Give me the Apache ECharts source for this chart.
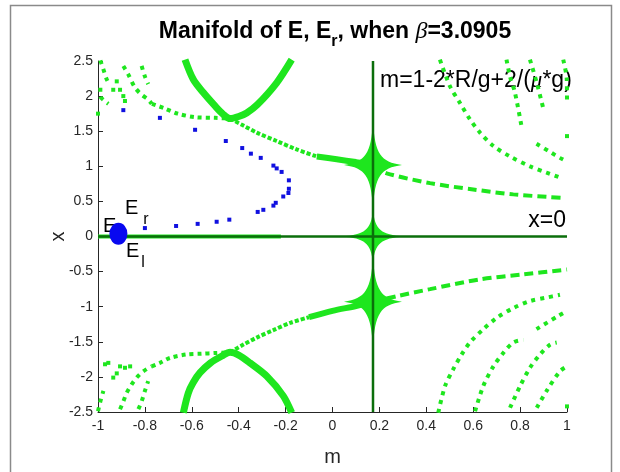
<!DOCTYPE html>
<html>
<head>
<meta charset="utf-8">
<script src="https://cdn.jsdelivr.net/npm/echarts@6/dist/echarts.min.js"></script>
<style>
  html, body { margin: 0; padding: 0; background: #fff; }
  #main { width: 620px; height: 472px; }
</style>
</head>
<body>
<div id="main"></div>
<script>
// lignes x=0 et m = 1-2R/g+2/(mu g)
var hLine = [[-1, 0], [1, 0]];
var hLineLeft = [[-1, 0], [-0.22, 0]];
var vLine = [[0.1727, -2.5], [0.1727, 2.5]];
var spindles = [[0.1727, 1.02], [0.1727, 0], [0.1727, -0.93]];

// branche superieure
var upLeft = [[-0.77, 1.89], [-0.72, 1.83], [-0.66, 1.75], [-0.586, 1.70], [-0.5, 1.69], [-0.437, 1.68]];
var upMid = [[-0.437, 1.68], [-0.38, 1.58], [-0.323, 1.48], [-0.238, 1.36], [-0.153, 1.24], [-0.067, 1.14]];
var upNear = [[-0.067, 1.14], [0.018, 1.10], [0.1, 1.06], [0.1727, 1.02]];
var upRight = [[0.1727, 1.0], [0.231, 0.9], [0.416, 0.76], [0.60, 0.67], [0.771, 0.60], [0.984, 0.55]];
// branche inferieure
var lowLeft = [[-0.771, -1.85], [-0.736, -1.80], [-0.693, -1.73], [-0.622, -1.68], [-0.558, -1.67], [-0.5, -1.66], [-0.437, -1.65]];
var lowMid = [[-0.437, -1.65], [-0.38, -1.54], [-0.323, -1.44], [-0.25, -1.33], [-0.18, -1.23], [-0.1, -1.15]];
var lowNear = [[-0.1, -1.15], [0.0, -1.06], [0.1, -0.99], [0.1727, -0.93]];
var lowRight = [[0.1727, -0.93], [0.274, -0.85], [0.416, -0.75], [0.629, -0.61], [0.814, -0.54], [1.0, -0.47]];

// paraboles
var parUp = [[-0.629, 2.52], [-0.594, 2.24], [-0.551, 2.05], [-0.501, 1.86], [-0.466, 1.74], [-0.437, 1.68], [-0.40, 1.71], [-0.366, 1.76], [-0.32, 1.88], [-0.238, 2.19], [-0.174, 2.52]];
var parDown = [[-0.636, -2.51], [-0.615, -2.23], [-0.594, -2.08], [-0.565, -1.94], [-0.52, -1.80], [-0.47, -1.70], [-0.437, -1.65], [-0.40, -1.69], [-0.352, -1.80], [-0.28, -1.99], [-0.21, -2.27], [-0.174, -2.51]];

// arcs en pointilles
var arcs = [
  [[-0.99, 2.51], [-0.977, 2.38], [-0.963, 2.24], [-0.95, 2.16]],
  [[-0.99, 2.12], [-0.99, 2.0], [-0.975, 1.94], [-0.956, 1.89]],
  [[-0.892, 2.43], [-0.871, 2.31], [-0.842, 2.12], [-0.814, 2.02], [-0.786, 1.95], [-0.771, 1.89]],
  [[-0.814, 2.43], [-0.80, 2.28], [-0.786, 2.17]],
  [[-1, -2.49], [-0.99, -2.35], [-0.977, -2.2]],
  [[-0.906, -2.46], [-0.892, -2.35], [-0.878, -2.23], [-0.857, -2.11], [-0.835, -2.01], [-0.814, -1.94], [-0.793, -1.89], [-0.771, -1.85]],
  [[-0.828, -2.46], [-0.814, -2.35], [-0.80, -2.2], [-0.786, -2.06]],
  [[0.458, 2.52], [0.501, 2.14], [0.544, 1.90], [0.586, 1.67], [0.629, 1.48], [0.686, 1.29], [0.757, 1.14], [0.842, 1.0], [0.913, 0.91], [0.97, 0.84]],
  [[0.742, 2.52], [0.757, 2.28], [0.778, 2.05], [0.806, 1.57]],
  [[0.87, 1.32], [0.93, 1.2], [0.97, 1.12], [1.0, 1.07]],
  [[0.842, 2.52], [0.871, 2.19], [0.9, 1.81]],
  [[0.984, 2.52], [0.999, 2.24], [1.0, 1.95]],
  [[0.451, -2.51], [0.48, -2.13], [0.515, -1.89], [0.551, -1.68], [0.586, -1.51], [0.643, -1.32], [0.70, -1.16], [0.771, -1.02], [0.842, -0.92], [0.913, -0.87], [0.97, -0.83]],
  [[0.608, -2.49], [0.643, -2.13], [0.686, -1.85], [0.728, -1.66], [0.771, -1.51], [0.814, -1.47]],
  [[0.87, -1.32], [0.963, -1.13], [1.0, -1.06]],
  [[0.757, -2.44], [0.80, -2.13], [0.842, -1.87], [0.885, -1.68], [0.928, -1.54], [0.956, -1.51]],
  [[0.871, -2.44], [0.913, -2.2], [0.97, -1.92], [1.0, -1.85]]
];
var greenDots = [[-0.92, 2.21], [-0.935, 2.09], [-0.906, 2.09], [-0.892, 2.0], [-0.885, 1.93], [-1, 1.75],
  [-0.97, -1.82], [-0.956, -1.80], [-0.935, -2.01], [-0.92, -1.95], [-0.906, -1.85], [-0.885, -1.87], [-0.863, -1.85],
  [1.0, 1.43], [1.0, -2.42]];

// orbite bleue
var bluePts = [[-0.892, 1.80], [-0.736, 1.69], [-0.586, 1.52], [-0.455, 1.36], [-0.385, 1.26], [-0.348, 1.18], [-0.306, 1.12],
  [-0.252, 1.01], [-0.238, 0.97], [-0.217, 0.92], [-0.186, 0.80], [-0.186, 0.68], [-0.188, 0.62], [-0.21, 0.57],
  [-0.242, 0.48], [-0.252, 0.44], [-0.295, 0.38], [-0.319, 0.35], [-0.44, 0.24], [-0.494, 0.21], [-0.575, 0.18],
  [-0.667, 0.15], [-0.80, 0.12]];
var pointE = [[-0.913, 0.04]];

var GREEN = '#1ee61e';
var DARK = '#0b6e0b';
var spindleSizes = [[58, 86], [62, 52], [58, 90]];
var starPath = 'path://M0,-10 C0.7,-2.6 2.6,-0.7 10,0 C2.6,0.7 0.7,2.6 0,10 C-0.7,2.6 -2.6,0.7 -10,0 C-2.6,-0.7 -0.7,-2.6 0,-10 Z';

function curve(data, width, dash, z) {
  return {
    type: 'line', data: data, smooth: 0.3, symbol: 'none', silent: true, z: z || 2,
    lineStyle: { color: GREEN, width: width, type: dash || 'solid', cap: 'butt', opacity: 1 }
  };
}

var series = [];
arcs.forEach(function (a) { series.push(curve(a, 4, [4, 5])); });
series.push({ type: 'scatter', data: greenDots, symbol: 'rect', symbolSize: 4, itemStyle: { color: GREEN, opacity: 1 }, silent: true });
series.push(curve(hLineLeft, 4));
series.push(curve(upLeft, 4, [4, 4]));
series.push(curve(upMid, 4, [4, 2]));
series.push(curve(upNear, 6));
series.push(curve(upRight, 4, [9, 5]));
series.push(curve(lowLeft, 4, [4, 4]));
series.push(curve(lowMid, 4, [4, 2]));
series.push(curve(lowNear, 6));
series.push(curve(lowRight, 4, [9, 5]));
series.push(curve(parUp, 7));
series.push(curve(parDown, 7));
series.push({
  type: 'scatter', silent: true, z: 3,
  data: spindles.map(function (p, i) { return { value: p, symbolSize: spindleSizes[i] }; }),
  symbol: starPath, itemStyle: { color: GREEN, opacity: 1 }
});
series.push({ type: 'line', data: hLine, symbol: 'none', silent: true, z: 4, lineStyle: { color: DARK, width: 2.5 } });
series.push({ type: 'line', data: vLine, symbol: 'none', silent: true, z: 4, lineStyle: { color: DARK, width: 2.5 } });
series.push({ type: 'scatter', data: bluePts, symbol: 'rect', symbolSize: 4, silent: true, z: 5, itemStyle: { color: '#1010e0', opacity: 1 } });
series.push({ type: 'scatter', data: pointE, symbol: 'circle', symbolSize: [18, 22], silent: true, z: 6, itemStyle: { color: '#0808f0', opacity: 1 } });

var chart = echarts.init(document.getElementById('main'), null, { renderer: 'canvas' });
var axisCol = '#262626';
var FONT = 'Liberation Sans';

chart.setOption({
  animation: false,
  backgroundColor: '#fff',
  title: {
    left: 330, top: 15, textAlign: 'center',
    text: '{a|Manifold of E, E}{s|r}{a|, when }{b|β}{a|=3.0905}',
    textStyle: {
      rich: {
        a: { fontSize: 23, fontWeight: 'bold', fontFamily: FONT, color: '#000', lineHeight: 26, verticalAlign: 'top' },
        s: { fontSize: 16, fontWeight: 'bold', fontFamily: FONT, color: '#000', lineHeight: 16, padding: [14, 0, 0, 0], verticalAlign: 'top' },
        b: { fontSize: 24, fontStyle: 'italic', fontWeight: 'normal', fontFamily: 'Liberation Serif', color: '#000', lineHeight: 26, verticalAlign: 'top' }
      }
    }
  },
  grid: { left: 98, right: 53, top: 61, bottom: 60 },
  xAxis: {
    type: 'value', min: -1, max: 1, interval: 0.2,
    name: 'm', nameLocation: 'middle', nameGap: 35, nameMoveOverlap: false,
    nameTextStyle: { fontSize: 20, fontFamily: FONT, color: axisCol },
    axisLine: { onZero: false, lineStyle: { color: axisCol, width: 1 } },
    axisTick: { inside: true, length: 5, lineStyle: { color: axisCol } },
    axisLabel: { fontSize: 14, fontFamily: FONT, color: axisCol, margin: 7 },
    splitLine: { show: false }
  },
  yAxis: {
    type: 'value', min: -2.5, max: 2.5, interval: 0.5,
    name: 'x', nameLocation: 'middle', nameGap: 30, nameRotate: 90, nameMoveOverlap: false,
    nameTextStyle: { fontSize: 20, fontFamily: FONT, color: axisCol },
    axisLine: { onZero: false, lineStyle: { color: axisCol, width: 1 } },
    axisTick: { inside: true, length: 5, lineStyle: { color: axisCol } },
    axisLabel: { fontSize: 14, fontFamily: FONT, color: axisCol, margin: 5 },
    splitLine: { show: false }
  },
  graphic: [
    { type: 'rect', z: 0, shape: { x: 10.5, y: 5.5, width: 601, height: 480 }, style: { fill: 'none', stroke: '#8a8a8a', lineWidth: 1.5 } },
    { type: 'text', z: 1, x: 380, y: 81, style: { text: '{n|m=1-2*R/g+2/(}{i|μ}{n|*g)}', textVerticalAlign: 'middle',
      rich: { n: { fontSize: 23, fontFamily: FONT, fill: '#000' }, i: { fontSize: 23, fontFamily: 'Liberation Serif', fontStyle: 'italic', fill: '#000' } } } },
    { type: 'text', z: 1, x: 566, y: 221, style: { text: 'x=0', textAlign: 'right', textVerticalAlign: 'middle', fontSize: 23, fontFamily: FONT, fill: '#000' } },
    { type: 'text', z: 1, x: 103, y: 226, style: { text: 'E', textVerticalAlign: 'middle', fontSize: 20, fontFamily: FONT, fill: '#000' } },
    { type: 'text', z: 1, x: 125, y: 198, style: { text: '{e|E}{s|r}',
      rich: { e: { fontSize: 20, fontFamily: FONT, fill: '#000', lineHeight: 21, verticalAlign: 'top' }, s: { fontSize: 16, fontFamily: FONT, fill: '#000', lineHeight: 16, padding: [14, 0, 0, 5], verticalAlign: 'top' } } } },
    { type: 'text', z: 1, x: 126, y: 241, style: { text: '{e|E}{s|l}',
      rich: { e: { fontSize: 20, fontFamily: FONT, fill: '#000', lineHeight: 21, verticalAlign: 'top' }, s: { fontSize: 16, fontFamily: FONT, fill: '#000', lineHeight: 16, padding: [14, 0, 0, 2], verticalAlign: 'top' } } } }
  ],
  series: series
});
</script>
</body>
</html>
